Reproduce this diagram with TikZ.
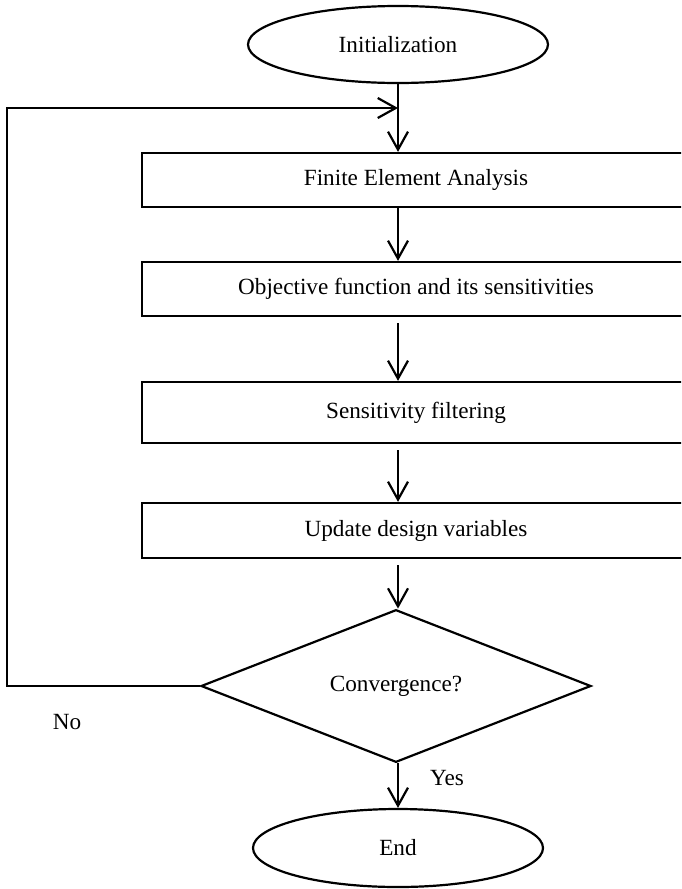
\documentclass[tikz,border=0pt]{standalone}
\usepackage{fontspec}
\setmainfont{Liberation Serif}
\usetikzlibrary{arrows.meta,shapes.geometric,positioning,calc}
\tikzstyle{term} = [draw,ellipse,line width=1.1pt,inner sep=0pt,minimum width=150pt,minimum height=38.5pt]
\tikzstyle{stepbox} = [draw,rectangle,line width=1.1pt,inner sep=0pt,minimum width=274pt,minimum height=27pt]
\tikzstyle{test} = [draw,diamond,line width=1.1pt,inner sep=0pt,minimum width=195pt,minimum height=66.5pt]
\tikzstyle{flow} = [line width=1.1pt,-{Straight Barb[length=9pt,width=10pt]}]

\begin{document}
\begin{tikzpicture}[x=0.5pt,y=-0.5pt,font=\fontsize{11.6}{14}\selectfont]
        \useasboundingbox (0,0) rectangle (681,889);
        \clip (0,0) rectangle (681,889);

        \node[term] (init) at (398,44.5) {Initialization};
        \node[stepbox] (fea) at (416,180) {Finite Element Analysis};
        \node[stepbox] (obj) at (416,289) {Objective function and its sensitivities};
        \node[stepbox,minimum height=30.5pt] (filt) at (416,412.5) {Sensitivity filtering};
        \node[stepbox,minimum height=27.5pt] (upd) at (416,530.5) {Update design variables};
        \node[test] (conv) at (396,686) {Convergence?};
        \node[term,minimum width=145pt,minimum height=39pt] (end) at (398,848) {End};

        \node (no) at (67,722) {No};
        \node (yes) at (447,778) {Yes};

        \coordinate (join) at (398,108);
        \coordinate (lp) at (7,108);

        \draw[flow] (init.south) to (init.south |- fea.north);
        \draw[flow] (init.south |- fea.south) to (init.south |- obj.north);
        \draw[flow] (init.south |- obj.south) ++(0,6) to (init.south |- filt.north);
        \draw[flow] (init.south |- filt.south) ++(0,6) to (init.south |- upd.north);
        \draw[flow] (init.south |- upd.south) ++(0,6) to (init.south |- conv.north);
        \draw[flow] (init.south |- conv.south) to (end.north);
        \draw[flow] (conv.west) -| (lp) -- (join);
\end{tikzpicture}
\end{document}
